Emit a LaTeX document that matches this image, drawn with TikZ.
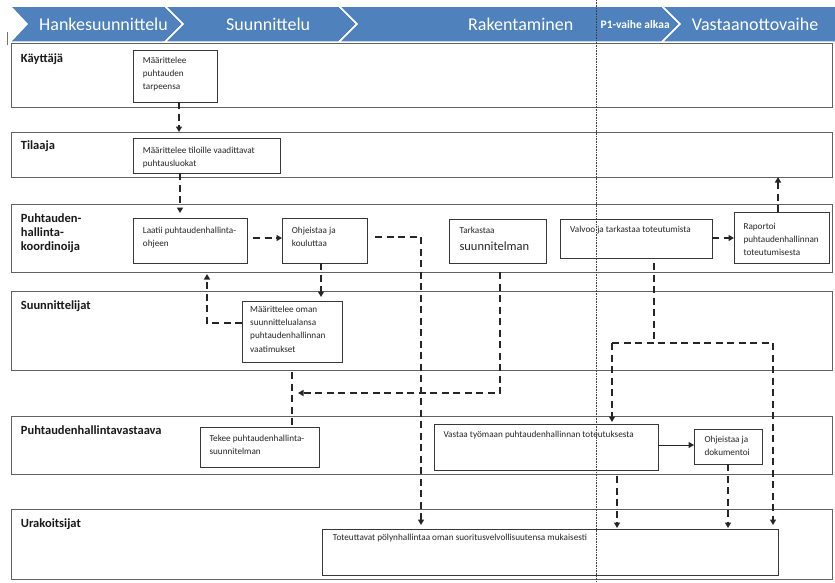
\documentclass[tikz,border=0pt]{standalone}
\usepackage{fontspec}
\setmainfont{Carlito}
\usetikzlibrary{arrows.meta,calc}
\definecolor{hdrblue}{HTML}{4F81BD}
\begin{document}
\begin{tikzpicture}[x=1pt,y=-1pt,
  lane/.style={draw=black!62, line width=0.9pt, fill=white, inner sep=0pt, outer sep=0pt, anchor=north west},
  box/.style={draw=black!78, line width=0.8pt, fill=white, inner sep=0pt, outer sep=0pt, anchor=north west},
  btxt/.style={anchor=north west, inner sep=0pt, align=left, text=black!85, font=\fontsize{9.2}{13}\selectfont},
  ltxt/.style={anchor=north west, inner sep=0pt, align=left, text=black!90, font=\fontsize{12.5}{14}\selectfont\bfseries},
  htxt/.style={anchor=base west, inner sep=0pt, text=white, font=\fontsize{18}{20}\selectfont},
  chev/.style={fill=hdrblue, draw=white, line width=1.5pt, line join=miter},
  flow/.style={line width=1.8pt, draw=black!85, dash pattern=on 7pt off 4.5pt},
  dasharr/.style={flow, -{Triangle[length=5.5pt,width=6pt]}},
  solidarr/.style={line width=1pt, draw=black!85, -{Triangle[length=5.5pt,width=6pt]}},
  phase/.style={draw=black!75, line width=0.6pt, dash pattern=on 0.7pt off 0.9pt}
]
\useasboundingbox (0,0) rectangle (835,582);

% header chevrons
\path[chev] (10,6) -- (165,6) -- (183,24) -- (165,42) -- (10,42) -- (27,24) -- cycle;
\path[chev] (165,6) -- (339,6) -- (357,24) -- (339,42) -- (165,42) -- (183,24) -- cycle;
\path[chev] (339,6) -- (662,6) -- (680,24) -- (662,42) -- (339,42) -- (357,24) -- cycle;
\path[chev] (662,6) -- (836,6) -- (836,42) -- (662,42) -- (680,24) -- cycle;
\node[htxt] (h1) at (39,30) {Hankesuunnittelu};
\node[htxt] (h2) at (226,30) {Suunnittelu};
\node[htxt] (h3) at (468,30) {Rakentaminen};
\node[htxt, font=\fontsize{11.5}{13}\selectfont\bfseries] (h4) at (600.5,28.3) {P1-vaihe alkaa};
\node[htxt] (h5) at (691.7,30) {Vastaanottovaihe};
\draw[black!55, line width=0.8pt] (7,32) -- (7,45);

% lanes
\node[lane, minimum width=821pt, minimum height=64pt] (L1) at (11,43) {};
\node[lane, minimum width=821pt, minimum height=45pt] (L2) at (11,132) {};
\node[lane, minimum width=821pt, minimum height=68pt] (L3) at (11,204) {};
\node[lane, minimum width=821pt, minimum height=79pt] (L4) at (11,291) {};
\node[lane, minimum width=821pt, minimum height=58pt] (L5) at (11,416) {};
\node[lane, minimum width=821pt, minimum height=70pt] (L6) at (11,509) {};

\node[ltxt] (T1) at ($(L1.north west)+(9.7,11)$) {Käyttäjä};
\node[ltxt] (T2) at ($(L2.north west)+(9.7,8.7)$) {Tilaaja};
\node[ltxt] (T3) at ($(L3.north west)+(9.7,10)$) {Puhtauden-\\hallinta-\\koordinoija};
\node[ltxt] (T4) at ($(L4.north west)+(9.7,9.7)$) {Suunnittelijat};
\node[ltxt] (T5) at ($(L5.north west)+(9.7,9.7)$) {Puhtaudenhallintavastaava};
\node[ltxt] (T6) at ($(L6.north west)+(9.7,9.3)$) {Urakoitsijat};

% boxes
\node[box, minimum width=84pt, minimum height=52pt] (B1) at (133,50) {};
\node[box, minimum width=147pt, minimum height=35pt] (B2) at (133,138) {};
\node[box, minimum width=114pt, minimum height=45pt] (B3) at (133,218) {};
\node[box, minimum width=85pt, minimum height=45pt] (B4) at (282,218) {};
\node[box, minimum width=97pt, minimum height=44pt] (B5) at (449,219) {};
\node[box, minimum width=152pt, minimum height=39pt] (B6) at (560,219) {};
\node[box, minimum width=95pt, minimum height=51pt] (B7) at (734,212) {};
\node[box, minimum width=100pt, minimum height=61pt] (B8) at (242,301) {};
\node[box, minimum width=119pt, minimum height=40pt] (B9) at (200,427) {};
\node[box, minimum width=224pt, minimum height=46pt] (B10) at (434,424) {};
\node[box, minimum width=68pt, minimum height=35pt] (B11) at (694,429) {};
\node[box, minimum width=456pt, minimum height=46pt] (B12) at (322,529) {};

\node[btxt] (X1) at ($(B1.north west)+(9.7,7.3)$) {Määrittelee\\puhtauden\\tarpeensa};
\node[btxt] (X2) at ($(B2.north west)+(9.7,8.7)$) {Määrittelee tiloille vaadittavat\\puhtausluokat};
\node[btxt] (X3) at ($(B3.north west)+(9.7,9.3)$) {Laatii puhtaudenhallinta-\\ohjeen};
\node[btxt] (X4) at ($(B4.north west)+(9.7,9)$) {Ohjeistaa ja\\kouluttaa};
\node[btxt, anchor=base west] (X5a) at ($(B5.north west)+(10.3,14.3)$) {Tarkastaa};
\node[btxt, anchor=base west, font=\fontsize{12.5}{14}\selectfont] (X5b) at ($(B5.north west)+(10.3,31)$) {suunnitelman};
\node[btxt] (X6) at ($(B6.north west)+(10,7)$) {Valvoo ja tarkastaa toteutumista};
\node[btxt] (X7) at ($(B7.north west)+(9.3,11)$) {Raportoi\\puhtaudenhallinnan\\toteutumisesta};
\node[btxt, font=\fontsize{9.2}{13.3}\selectfont] (X8) at ($(B8.north west)+(8,4.7)$) {Määrittelee oman\\suunnittelualansa\\puhtaudenhallinnan\\vaatimukset};
\node[btxt] (X9) at ($(B9.north west)+(9.3,7.7)$) {Tekee puhtaudenhallinta-\\suunnitelman};
\node[btxt] (X10) at ($(B10.north west)+(9.3,7.3)$) {Vastaa työmaan puhtaudenhallinnan toteutuksesta};
\node[btxt] (X11) at ($(B11.north west)+(10.3,7)$) {Ohjeistaa ja\\dokumentoi};
\node[btxt] (X12) at ($(B12.north west)+(10.7,5.4)$) {Toteuttavat pölynhallintaa oman suoritusvelvollisuutensa mukaisesti};

% column / row coordinates
\coordinate (cA1) at (179,0);
\coordinate (cA) at (180,0);
\coordinate (cB) at (207,0);
\coordinate (cC) at (321,0);
\coordinate (cD) at (421,0);
\coordinate (cE) at (500,0);
\coordinate (cG) at (654,0);
\coordinate (cH) at (612,0);
\coordinate (cI) at (773,0);
\coordinate (cJ) at (778,0);
\coordinate (cK) at (617,0);
\coordinate (rA3) at (0,238);
\coordinate (rA4) at (0,323);
\coordinate (rA6) at (0,237);
\coordinate (rA7) at (0,393);
\coordinate (rA9) at (0,343);
\coordinate (rA11) at (0,238);
\coordinate (rA12) at (0,445);

% connectors
\draw[dasharr] (B1.south -| cA1) -- (cA1 |- L2.north);
\draw[dasharr] (B2.south -| cA) -- ([yshift=5pt]B3.north -| cA);
\draw[dasharr] ([xshift=6pt]B3.east |- rA3) -- (B4.west |- rA3);
\draw[dasharr] (B8.west |- rA4) -- (cB |- rA4) -- ([yshift=-2pt]cB |- L3.south);
\draw[dasharr] (B4.south -| cC) -- ([yshift=4pt]B8.north -| cC);
\draw[dasharr] ([xshift=8pt]B4.east |- rA6) -- (cD |- rA6) -- ([yshift=4pt]cD |- B12.north);
\draw[dasharr] (cE |- L3.south) -- (cE |- rA7) -- ([xshift=6pt]B8.south |- rA7);
\draw[flow] ([yshift=-10pt]B8.south) -- (B8.south |- B9.north);
\draw[flow] ([yshift=-5pt]B6.south -| cG) -- (cG |- rA9);
\draw[flow] (cH |- rA9) -- (cI |- rA9);
\draw[dasharr] (cH |- rA9) -- ([yshift=2pt]cH |- B10.north);
\draw[dasharr] (cI |- rA9) -- ([yshift=4pt]cI |- B12.north);
\draw[dasharr] (B7.north -| cJ) -- (cJ |- L2.south);
\draw[dasharr] (B6.east |- rA11) -- (B7.west |- rA11);
\draw[solidarr] (B10.east |- rA12) -- (B11.west |- rA12);
\draw[dasharr] ([yshift=-2pt]cK |- L5.south) -- ([yshift=1pt]cK |- B12.north);
\draw[dasharr] (B11.south) -- ([yshift=1pt]B11.south |- B12.north);

% phase divider
\coordinate (pTop) at (596,0);
\coordinate (pBot) at (596,582);
\draw[phase] (pTop) -- (pBot);
\end{tikzpicture}
\end{document}
